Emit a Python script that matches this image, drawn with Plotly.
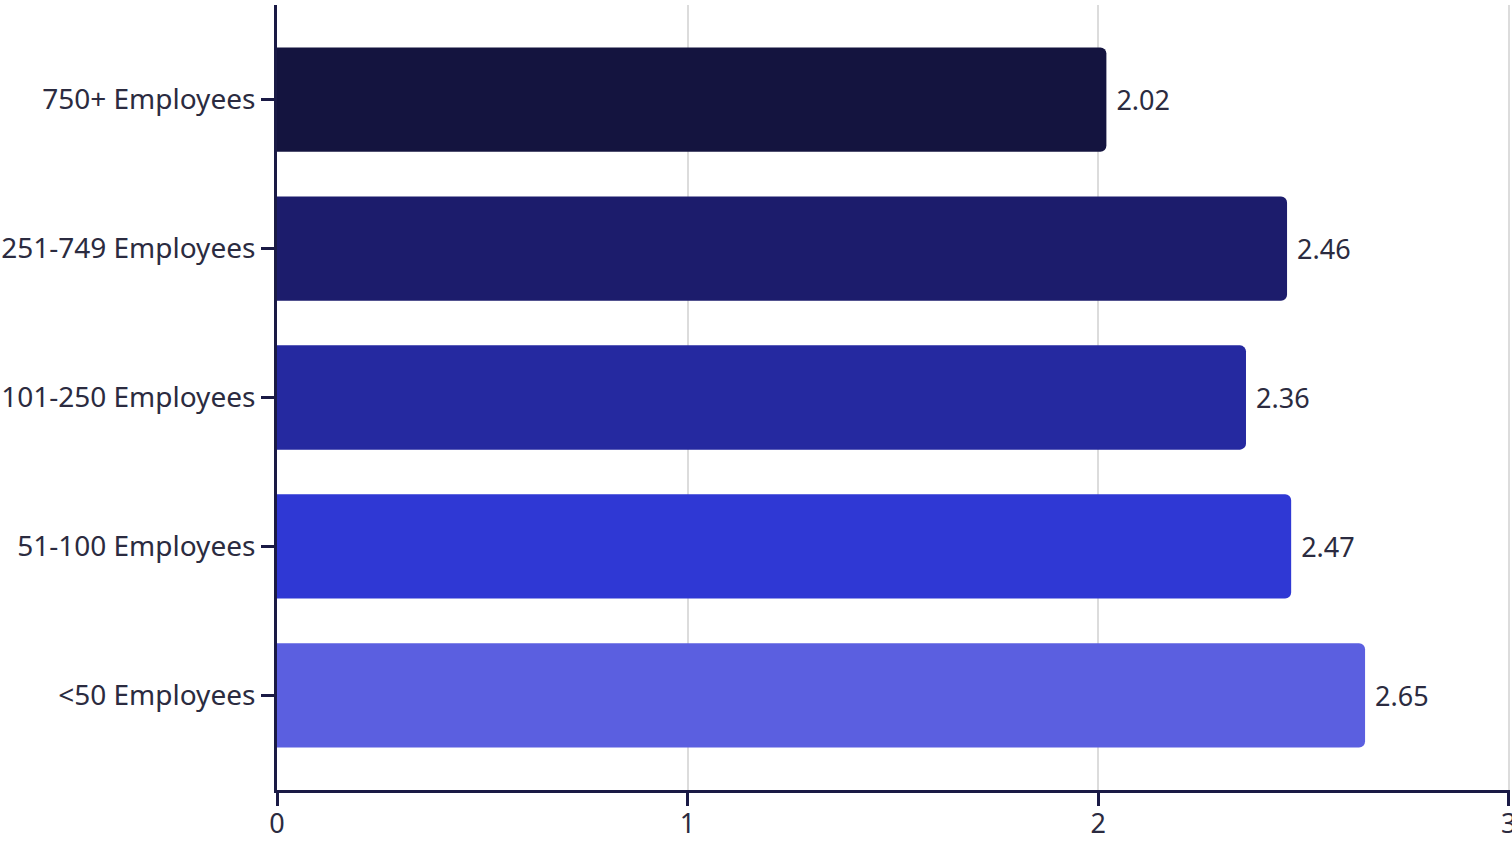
import plotly.graph_objects as go

# bottom to top
categories = ["<50 Employees", "51-100 Employees", "101-250 Employees",
              "251-749 Employees", "750+ Employees"]
values = [2.65, 2.47, 2.36, 2.46, 2.02]
bar_colors = ["#5B5FE0", "#2F38D4", "#2529A0", "#1C1C6C", "#14143F"]
x_ticks = [0, 1, 2, 3]

ink = "#1A1A45"
text_col = "#2B2B40"

fig = go.Figure()
fig.add_trace(go.Bar(
    x=values,
    y=categories,
    orientation="h",
    marker=dict(color=bar_colors, line=dict(width=0), cornerradius=6),
    width=0.7,
    text=["\u00a0%.2f" % v for v in values],
    textposition="outside",
    textfont=dict(size=27, color=text_col),
    cliponaxis=False,
    hoverinfo="skip",
))

fig.update_layout(
    width=1512,
    height=842,
    margin=dict(l=277, r=2, t=5, b=52),
    paper_bgcolor="white",
    plot_bgcolor="white",
    font=dict(family="Noto Sans", size=28, color=text_col),
    showlegend=False,
    xaxis=dict(
        range=[0, 3.003],
        tickvals=x_ticks,
        automargin=False,
        showgrid=True,
        gridcolor="#DCDCDC",
        gridwidth=1.5,
        zeroline=False,
        showline=True,
        linecolor=ink,
        linewidth=3,
        ticks="outside",
        ticklen=13,
        tickwidth=3,
        tickcolor=ink,
        tickfont=dict(size=27, color=text_col),
        ticklabeloverflow="allow",
        ticklabelstandoff=-5,
    ),
    yaxis=dict(
        type="category",
        categoryorder="array",
        categoryarray=categories,
        range=[-0.635, 4.635],
        automargin=False,
        showgrid=False,
        zeroline=False,
        showline=True,
        linecolor=ink,
        linewidth=3,
        ticks="outside",
        ticklen=13,
        tickwidth=3,
        tickcolor=ink,
        tickfont=dict(size=28, color=text_col),
    ),
)

# page has a default 8px body margin; drop it so the figure sits at the corner
fig.write_html("out.html", config={"displayModeBar": False},
               post_script="document.body.style.margin='0';")
